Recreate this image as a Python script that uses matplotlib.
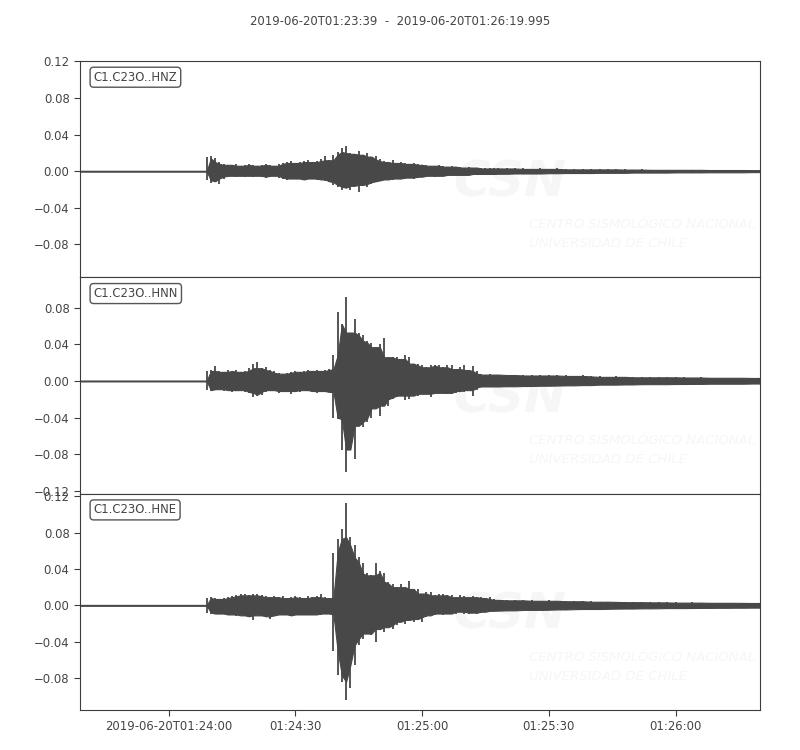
import datetime as dt
import matplotlib
matplotlib.use('Agg')
import matplotlib.pyplot as plt
from matplotlib.ticker import MultipleLocator

start_time = '2019-06-20T01:23:39'
end_time = '2019-06-20T01:26:19.995'
channels = ['C1.C23O..HNZ', 'C1.C23O..HNN', 'C1.C23O..HNE']
tick_times = ['01:24:00', '01:24:30', '01:25:00', '01:25:30', '01:26:00']

# seconds after start_time where the envelope was read
sec = [0, 29.7] + list(range(30, 100)) + list(range(101, 162, 2))

# HNZ envelope (upper / lower)
hi_hnz = [0.0005, 0.0005,
          0.015, 0.017, 0.014, 0.010, 0.008, 0.007, 0.007, 0.008, 0.006, 0.007,
          0.008, 0.007, 0.006, 0.007, 0.008, 0.007, 0.006, 0.008, 0.009, 0.010,
          0.011, 0.009, 0.010, 0.011, 0.012, 0.010, 0.011, 0.013, 0.017, 0.012,
          0.018, 0.021, 0.025, 0.028, 0.020, 0.019, 0.022, 0.018, 0.020, 0.016,
          0.017, 0.013, 0.011, 0.010, 0.012, 0.009, 0.010, 0.009, 0.008, 0.009,
          0.008, 0.007, 0.007, 0.006, 0.006, 0.007, 0.006, 0.005, 0.006, 0.005,
          0.005, 0.004, 0.005, 0.004, 0.004, 0.004, 0.003, 0.004, 0.003, 0.003,
          0.003, 0.003, 0.003, 0.0025, 0.003, 0.0025, 0.003, 0.0025, 0.002, 0.0025,
          0.002, 0.002, 0.0025, 0.002, 0.002, 0.0018, 0.002, 0.0018, 0.0015, 0.0018,
          0.0015, 0.0015, 0.0018, 0.0015, 0.0015, 0.0013, 0.0015, 0.0013, 0.0015, 0.0013,
          0.0012]
lo_hnz = [-0.0005, -0.0005,
          -0.010, -0.013, -0.011, -0.014, -0.008, -0.006, -0.005, -0.006, -0.005, -0.006,
          -0.005, -0.006, -0.005, -0.006, -0.007, -0.006, -0.005, -0.007, -0.008, -0.010,
          -0.009, -0.008, -0.009, -0.010, -0.009, -0.008, -0.010, -0.009, -0.011, -0.012,
          -0.015, -0.017, -0.020, -0.018, -0.021, -0.016, -0.023, -0.015, -0.017, -0.014,
          -0.012, -0.011, -0.010, -0.009, -0.010, -0.008, -0.009, -0.008, -0.007, -0.008,
          -0.007, -0.006, -0.006, -0.005, -0.006, -0.005, -0.005, -0.005, -0.004, -0.005,
          -0.004, -0.004, -0.004, -0.004, -0.003, -0.003, -0.003, -0.003, -0.003, -0.003,
          -0.0028, -0.003, -0.0025, -0.0028, -0.0025, -0.0025, -0.0022, -0.0025, -0.002, -0.0022,
          -0.002, -0.002, -0.0018, -0.002, -0.0018, -0.0018, -0.0015, -0.0018, -0.0015, -0.0015,
          -0.0015, -0.0013, -0.0015, -0.0013, -0.0013, -0.0012, -0.0013, -0.0012, -0.0012, -0.0012,
          -0.001]

# HNN
hi_hnn = [0.0005, 0.0005,
          0.011, 0.012, 0.016, 0.011, 0.010, 0.012, 0.011, 0.012, 0.010, 0.011,
          0.014, 0.019, 0.021, 0.014, 0.015, 0.012, 0.011, 0.009, 0.008, 0.009,
          0.010, 0.011, 0.010, 0.011, 0.012, 0.011, 0.012, 0.011, 0.012, 0.013,
          0.028, 0.075, 0.062, 0.092, 0.053, 0.068, 0.053, 0.050, 0.044, 0.042,
          0.037, 0.040, 0.047, 0.026, 0.026, 0.026, 0.024, 0.028, 0.026, 0.019,
          0.019, 0.017, 0.015, 0.018, 0.017, 0.017, 0.015, 0.017, 0.017, 0.013,
          0.015, 0.017, 0.012, 0.016, 0.011, 0.008, 0.007, 0.008, 0.007, 0.007,
          0.007, 0.0065, 0.007, 0.006, 0.0065, 0.006, 0.0065, 0.006, 0.0055, 0.006,
          0.0055, 0.005, 0.0045, 0.005, 0.0045, 0.0045, 0.004, 0.0045, 0.004, 0.004,
          0.0042, 0.004, 0.0038, 0.004, 0.0038, 0.0035, 0.0038, 0.0035, 0.0035, 0.0035,
          0.0033]
lo_hnn = [-0.0005, -0.0005,
          -0.010, -0.011, -0.010, -0.009, -0.011, -0.010, -0.012, -0.011, -0.010, -0.012,
          -0.013, -0.018, -0.016, -0.015, -0.012, -0.010, -0.011, -0.013, -0.011, -0.012,
          -0.014, -0.011, -0.012, -0.010, -0.011, -0.012, -0.013, -0.011, -0.012, -0.012,
          -0.040, -0.042, -0.075, -0.100, -0.075, -0.085, -0.049, -0.050, -0.045, -0.041,
          -0.030, -0.038, -0.027, -0.027, -0.020, -0.018, -0.016, -0.021, -0.020, -0.016,
          -0.016, -0.014, -0.014, -0.018, -0.014, -0.013, -0.013, -0.014, -0.014, -0.013,
          -0.011, -0.012, -0.010, -0.016, -0.010, -0.007, -0.006, -0.007, -0.006, -0.006,
          -0.006, -0.0058, -0.006, -0.0055, -0.0058, -0.0052, -0.0055, -0.005, -0.0048, -0.005,
          -0.0045, -0.0045, -0.004, -0.0042, -0.004, -0.0038, -0.004, -0.0035, -0.0038, -0.0035,
          -0.0035, -0.0033, -0.0035, -0.0032, -0.0033, -0.003, -0.0032, -0.003, -0.003, -0.003,
          -0.0028]

# HNE
hi_hne = [0.0005, 0.0005,
          0.008, 0.009, 0.008, 0.007, 0.008, 0.009, 0.010, 0.011, 0.012, 0.012,
          0.011, 0.013, 0.012, 0.011, 0.010, 0.009, 0.010, 0.009, 0.010, 0.008,
          0.009, 0.010, 0.009, 0.008, 0.010, 0.009, 0.010, 0.012, 0.009, 0.008,
          0.058, 0.073, 0.084, 0.112, 0.075, 0.066, 0.053, 0.047, 0.035, 0.033,
          0.046, 0.038, 0.036, 0.026, 0.024, 0.020, 0.024, 0.020, 0.027, 0.018,
          0.018, 0.013, 0.015, 0.015, 0.011, 0.013, 0.013, 0.011, 0.011, 0.009,
          0.011, 0.010, 0.009, 0.010, 0.009, 0.009, 0.008, 0.009, 0.007, 0.006,
          0.006, 0.0055, 0.006, 0.0055, 0.005, 0.0055, 0.005, 0.005, 0.0045, 0.005,
          0.0045, 0.004, 0.0042, 0.004, 0.0038, 0.0035, 0.0038, 0.0035, 0.0033, 0.0035,
          0.0032, 0.003, 0.0032, 0.003, 0.003, 0.0028, 0.003, 0.0028, 0.0028, 0.0027,
          0.0026]
lo_hne = [-0.0005, -0.0005,
          -0.008, -0.009, -0.010, -0.009, -0.010, -0.011, -0.010, -0.012, -0.011, -0.012,
          -0.013, -0.016, -0.011, -0.012, -0.013, -0.015, -0.012, -0.011, -0.010, -0.011,
          -0.012, -0.011, -0.010, -0.011, -0.010, -0.011, -0.010, -0.011, -0.009, -0.010,
          -0.050, -0.077, -0.084, -0.104, -0.091, -0.066, -0.044, -0.037, -0.031, -0.033,
          -0.040, -0.026, -0.029, -0.024, -0.026, -0.022, -0.018, -0.020, -0.016, -0.018,
          -0.015, -0.018, -0.013, -0.011, -0.011, -0.009, -0.011, -0.009, -0.010, -0.009,
          -0.007, -0.009, -0.010, -0.008, -0.009, -0.008, -0.007, -0.007, -0.006, -0.006,
          -0.0058, -0.0055, -0.0055, -0.005, -0.0052, -0.005, -0.0048, -0.0045, -0.0045, -0.0042,
          -0.004, -0.0042, -0.004, -0.0038, -0.0036, -0.0035, -0.0035, -0.0033, -0.0033, -0.0032,
          -0.003, -0.003, -0.0031, -0.0029, -0.0028, -0.0028, -0.0027, -0.0027, -0.0026, -0.0026,
          -0.0025]

# y range of each panel
ylims = [(-0.116, 0.1205), (-0.1233, 0.1134), (-0.115, 0.1227)]

traces = [(hi_hnz, lo_hnz), (hi_hnn, lo_hnn), (hi_hne, lo_hne)]

t0 = dt.datetime.strptime(start_time, '%Y-%m-%dT%H:%M:%S')
t1 = dt.datetime.strptime(end_time, '%Y-%m-%dT%H:%M:%S.%f')
duration = (t1 - t0).total_seconds()

tick_pos = []
tick_lab = []
for i, tt in enumerate(tick_times):
    d = dt.datetime.strptime(t0.strftime('%Y-%m-%d') + 'T' + tt, '%Y-%m-%dT%H:%M:%S')
    tick_pos.append((d - t0).total_seconds())
    if i == 0:
        tick_lab.append(d.strftime('%Y-%m-%dT%H:%M:%S'))
    else:
        tick_lab.append(tt)


def core(vals, fn):
    # inner body of the trace: the quieter of each sample and its neighbours,
    # so the single samples stick out as thin spikes
    out = []
    n = len(vals)
    for i in range(n):
        out.append(fn(vals[max(i - 1, 0):min(i + 2, n)]))
    return out


trace_color = '#484848'
text_color = '#444444'
wm_color = '#f6f6f6'

plt.rcParams['font.family'] = 'DejaVu Sans'
fig = plt.figure(figsize=(8, 7.5), dpi=100)

left, width = 0.1, 0.85
bottom, top = 0.0533, 0.9187
h = (top - bottom) / 3

for k in range(3):
    ax = fig.add_axes([left, top - (k + 1) * h, width, h])
    hi, lo = traces[k]

    # faint watermark
    ax.text(0.549, 0.44, 'CSN', transform=ax.transAxes, fontsize=36, fontweight='bold',
            fontstyle='italic', color=wm_color, va='center', ha='left', zorder=0)
    ax.text(0.66, 0.245, 'CENTRO SISMOLÓGICO NACIONAL', transform=ax.transAxes, fontsize=9.5,
            fontstyle='italic', color=wm_color, va='center', ha='left', zorder=0)
    ax.text(0.66, 0.157, 'UNIVERSIDAD DE CHILE', transform=ax.transAxes, fontsize=9.5,
            fontstyle='italic', color=wm_color, va='center', ha='left', zorder=0)

    ax.fill_between(sec, core(lo, max), core(hi, min), color=trace_color, lw=0.8, zorder=2)
    ax.vlines(sec, lo, hi, color=trace_color, lw=1.3, zorder=2)

    ax.set_xlim(0, duration)
    ax.set_ylim(*ylims[k])
    ax.yaxis.set_major_locator(MultipleLocator(0.04))

    ax.text(0.02, 0.955, channels[k], transform=ax.transAxes, fontsize=8.4, color=text_color,
            va='top', ha='left', zorder=5,
            bbox=dict(boxstyle='round,pad=0.3', fc='white', ec='#555555', lw=1.0))

    for s in ax.spines.values():
        s.set_color('#3c3c3c')
    ax.tick_params(axis='y', labelsize=8.4, colors='#3c3c3c', labelcolor=text_color, length=4)
    if k < 2:
        ax.tick_params(axis='x', bottom=False, labelbottom=False)
    else:
        ax.set_xticks(tick_pos)
        ax.set_xticklabels(tick_lab)
        ax.tick_params(axis='x', labelsize=8.4, colors='#3c3c3c', labelcolor=text_color, length=4)

fig.suptitle(start_time + '  -  ' + end_time, fontsize=8.4, color=text_color, y=0.98)

fig.savefig('out.png', dpi=100)
